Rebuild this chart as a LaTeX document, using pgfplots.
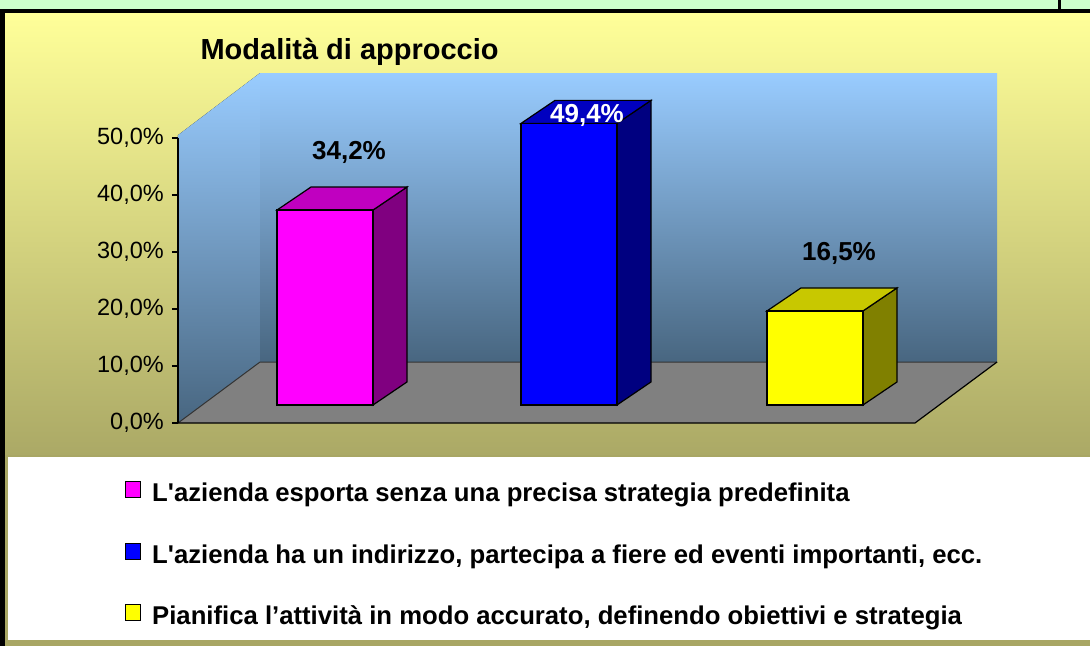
\documentclass[border=0pt]{standalone}
\usepackage{fontspec}
\setmainfont{Liberation Sans}[Ligatures=TeXOff]
\usepackage{pgfplots}
\usepackage{pgfplotstable}
\pgfplotsset{compat=1.18}

\definecolor{bgtop}{RGB}{255,255,153}
\definecolor{bgmid}{RGB}{238,234,132}
\definecolor{bgbot}{RGB}{168,166,100}
\definecolor{walltop}{RGB}{153,204,255}
\definecolor{wallmid}{RGB}{125,155,205}
\definecolor{wallbot}{RGB}{72,102,128}
\definecolor{floorgray}{RGB}{128,128,128}
\definecolor{greenband}{RGB}{204,255,204}
\definecolor{pinkF}{RGB}{255,0,255}
\definecolor{pinkS}{RGB}{128,0,128}
\definecolor{pinkT}{RGB}{192,0,192}
\definecolor{blueF}{RGB}{0,0,255}
\definecolor{blueS}{RGB}{0,0,128}
\definecolor{blueT}{RGB}{0,0,192}
\definecolor{yelF}{RGB}{255,255,0}
\definecolor{yelS}{RGB}{128,128,0}
\definecolor{yelT}{RGB}{200,200,0}

\newcommand{\valfont}{\bfseries\fontsize{26}{26}\selectfont}

% bar position (front-left x, in px from the axis line) and value (%)
\pgfplotstableread{
pos v
99 34.2
343 49.4
589 16.5
}\bardata

% #1 row, #2 front, #3 side, #4 top, #5 label y offset, #6 label colour, #7 label x offset
\newcommand{\threedbar}[7]{%
  \pgfplotstablegetelem{#1}{pos}\of\bardata \let\bx\pgfplotsretval
  \pgfplotstablegetelem{#1}{v}\of\bardata \let\bv\pgfplotsretval
  \pgfmathsetmacro{\xa}{\bx}%
  \pgfmathsetmacro{\xb}{\bx+96}%
  \pgfmathsetmacro{\xc}{\bx+130}%
  \pgfmathsetmacro{\xd}{\bx+34}%
  \pgfmathsetmacro{\ya}{3.16}%
  \pgfmathsetmacro{\yb}{7.2}%
  \pgfmathsetmacro{\yc}{3.16+\bv}%
  \pgfmathsetmacro{\yd}{7.2+\bv}%
  \addplot[fill=#3, draw=black, line width=1.2pt, forget plot] coordinates {(\xb,\ya) (\xc,\yb) (\xc,\yd) (\xb,\yc)} -- cycle;
  \addplot[fill=#4, draw=black, line width=1.2pt, forget plot] coordinates {(\xa,\yc) (\xd,\yd) (\xc,\yd) (\xb,\yc)} -- cycle;
  \addplot[fill=#2, draw=black, line width=1.2pt] coordinates {(\xa,\ya) (\xb,\ya) (\xb,\yc) (\xa,\yc)} -- cycle;
  \pgfmathsetmacro{\lx}{\bx+#7}%
  \pgfmathsetmacro{\ly}{\yd+#5}%
  \edef\tmp{\noexpand\node[text=#6, font=\noexpand\valfont] at (axis cs:\lx,\ly) {\noexpand\pgfmathprintnumber[fixed,fixed zerofill,precision=1,use comma]{\bv}\noexpand\%};}%
  \tmp
}

\begin{document}
\begin{tikzpicture}
% ---------- frame in pixel coordinates ----------
\begin{scope}[shift={(-178pt,423pt)}, x=1pt, y=-1pt]
  \useasboundingbox (0,0) rectangle (1090,646);
  \fill[top color=bgtop, middle color=bgmid, bottom color=bgbot] (0,13) rectangle (1090,470);
  \fill[bgbot] (0,455) rectangle (1090,646);
  \fill[white] (8,457) rectangle (1090,640);
  \fill[greenband] (0,0) rectangle (1090,9);
  \fill[black] (0,9) rectangle (1090,13);
  \fill[black] (1058,0) rectangle (1061,13);
  \fill[black] (0,13) rectangle (5,646);
\end{scope}

\begin{axis}[
  at={(0pt,0pt)}, anchor=south west,
  x=1pt, y=5.7pt,
  xmin=0, xmax=737, ymin=0, ymax=50,
  clip=false,
  axis x line=none,
  axis y line*=left,
  axis on top,
  axis line style={black, line width=1.2pt},
  ytick={0,10,...,50},
  tick align=outside,
  major tick length=6pt,
  tick style={black, line width=1.2pt},
  yticklabel={\pgfmathprintnumber[fixed,fixed zerofill,precision=1,use comma]{\tick}\%},
  /pgf/number format/assume math mode=true,
  yticklabel style={font=\fontsize{23.5}{23.5}\selectfont, inner sep=0pt, xshift=-8pt},
  title={Modalità di approccio},
  title style={at={(axis description cs:0.0258,1.256)}, anchor=base west, font=\bfseries\fontsize{29}{29}\selectfont},
  legend style={at={(axis description cs:-0.0719,-0.2035)}, anchor=north west,
    draw=none, fill=none, inner sep=0pt, row sep=35pt,
    font=\bfseries\fontsize{25.7}{25.7}\selectfont,
    nodes={inner sep=0pt, text height=18pt, text depth=6pt},
    cells={anchor=west},
    /tikz/every odd column/.append style={column sep=11pt}},
  legend image code/.code={\draw[#1, line width=1pt] (0pt,-2pt) rectangle (15pt,14pt);},
]
% walls and floor
\fill[top color=walltop, middle color=wallmid, bottom color=wallbot] (axis cs:82,10.7) rectangle (axis cs:819,61.4);
\fill[top color=walltop, middle color=wallmid, bottom color=wallbot] (axis cs:0,0) -- (axis cs:82,10.7) -- (axis cs:82,61.4) -- (axis cs:0,50.5) -- cycle;
\fill[floorgray] (axis cs:0,0) -- (axis cs:737,0) -- (axis cs:819,10.7) -- (axis cs:82,10.7) -- cycle;
\draw[black!80, line width=1pt] (axis cs:0,0) -- (axis cs:82,10.7) -- (axis cs:819,10.7);
\draw[black, line width=1.2pt] (axis cs:0,0) -- (axis cs:737,0) -- (axis cs:819,10.7);

\threedbar{0}{pinkF}{pinkS}{pinkT}{6}{black}{72}
\addlegendentry{L'azienda esporta senza una precisa strategia predefinita}
\threedbar{1}{blueF}{blueS}{blueT}{-2.6}{white}{66}
\addlegendentry{L'azienda ha un indirizzo, partecipa a fiere ed eventi importanti, ecc.}
\threedbar{2}{yelF}{yelS}{yelT}{6}{black}{72}
\addlegendentry{Pianifica l’attività in modo accurato, definendo obiettivi e strategia}
\end{axis}
\end{tikzpicture}
\end{document}
